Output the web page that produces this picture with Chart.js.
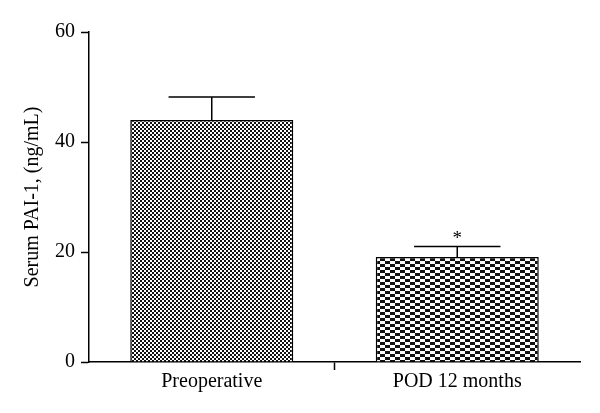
<!DOCTYPE html>
<html>
<head>
<meta charset="utf-8">
<script src="https://cdn.jsdelivr.net/npm/chart.js@4/dist/chart.umd.min.js"></script>
<style>
  html, body { margin: 0; padding: 0; background: #fff; }
  #wrap { width: 600px; height: 413px; }
</style>
</head>
<body>
<div id="wrap"><canvas id="c" width="600" height="413"></canvas></div>
<script>
const categories = ["Preoperative", "POD 12 months"];
const meanValues = [44, 19.1];
const errorValues = [4.2, 1.9];
const significance = ["", "*"];
const yTicks = [0, 20, 40, 60];

function makePattern(cw, ch) {
  const p = document.createElement("canvas");
  p.width = cw * 2; p.height = ch * 2;
  const g = p.getContext("2d");
  g.fillStyle = "#fff";
  g.fillRect(0, 0, p.width, p.height);
  g.fillStyle = "#111";
  g.fillRect(0, 0, cw, ch);
  g.fillRect(cw, ch, cw, ch);
  return document.getElementById("c").getContext("2d").createPattern(p, "repeat");
}
const patterns = [makePattern(2, 2), makePattern(5, 3)];

const errorBarPlugin = {
  id: "errorBars",
  afterDatasetsDraw(chart) {
    const ctx = chart.ctx;
    const meta = chart.getDatasetMeta(0);
    const y = chart.scales.y;
    ctx.save();
    ctx.strokeStyle = "#000";
    ctx.lineWidth = 1.5;
    meta.data.forEach((bar, i) => {
      const top = y.getPixelForValue(meanValues[i] + errorValues[i]);
      const base = y.getPixelForValue(meanValues[i]);
      const half = bar.width * 0.265;
      ctx.beginPath();
      ctx.moveTo(bar.x, base);
      ctx.lineTo(bar.x, top);
      ctx.moveTo(bar.x - half, top);
      ctx.lineTo(bar.x + half, top);
      ctx.stroke();
      if (significance[i]) {
        ctx.fillStyle = "#000";
        ctx.font = "19px 'Liberation Serif'";
        ctx.textAlign = "center";
        ctx.textBaseline = "middle";
        ctx.fillText(significance[i], bar.x, top - 7);
      }
    });
    ctx.restore();
  }
};

new Chart(document.getElementById("c"), {
  type: "bar",
  data: {
    labels: categories,
    datasets: [{
      data: meanValues,
      backgroundColor: patterns,
      borderColor: "#000",
      borderWidth: 1.5,
      categoryPercentage: 1.0,
      barPercentage: 0.664
    }]
  },
  options: {
    responsive: false,
    animation: false,
    layout: { padding: { top: 32, right: 20, left: 0, bottom: 0 } },
    plugins: { legend: { display: false }, tooltip: { enabled: false } },
    scales: {
      x: {
        offset: true,
        grid: {
          offset: true,
          drawOnChartArea: false,
          tickLength: 8,
          tickWidth: 1.5,
          tickColor: (c) => (c.index === 1 ? "#000" : "rgba(0,0,0,0)")
        },
        border: { color: "#000", width: 1.5 },
        ticks: {
          color: "#000",
          font: { family: "'Liberation Serif'", size: 20 },
          padding: 0,
          maxRotation: 0
        },
        afterFit(s) { s.height = 51; }
      },
      y: {
        min: 0,
        max: 60,
        afterBuildTicks(s) { s.ticks = yTicks.map(v => ({ value: v })); },
        grid: {
          drawOnChartArea: false,
          tickLength: 8,
          tickWidth: 1.5,
          tickColor: "#000"
        },
        border: { color: "#000", width: 1.5 },
        ticks: {
          color: "#000",
          font: { family: "'Liberation Serif'", size: 20 },
          padding: 6
        },
        title: {
          display: true,
          text: "Serum PAI-1, (ng/mL)",
          color: "#000",
          font: { family: "'Liberation Serif'", size: 20 },
          padding: { top: 21, bottom: 0 }
        },
        afterFit(s) { s.width = 89; }
      }
    }
  },
  plugins: [errorBarPlugin]
});
</script>
</body>
</html>
